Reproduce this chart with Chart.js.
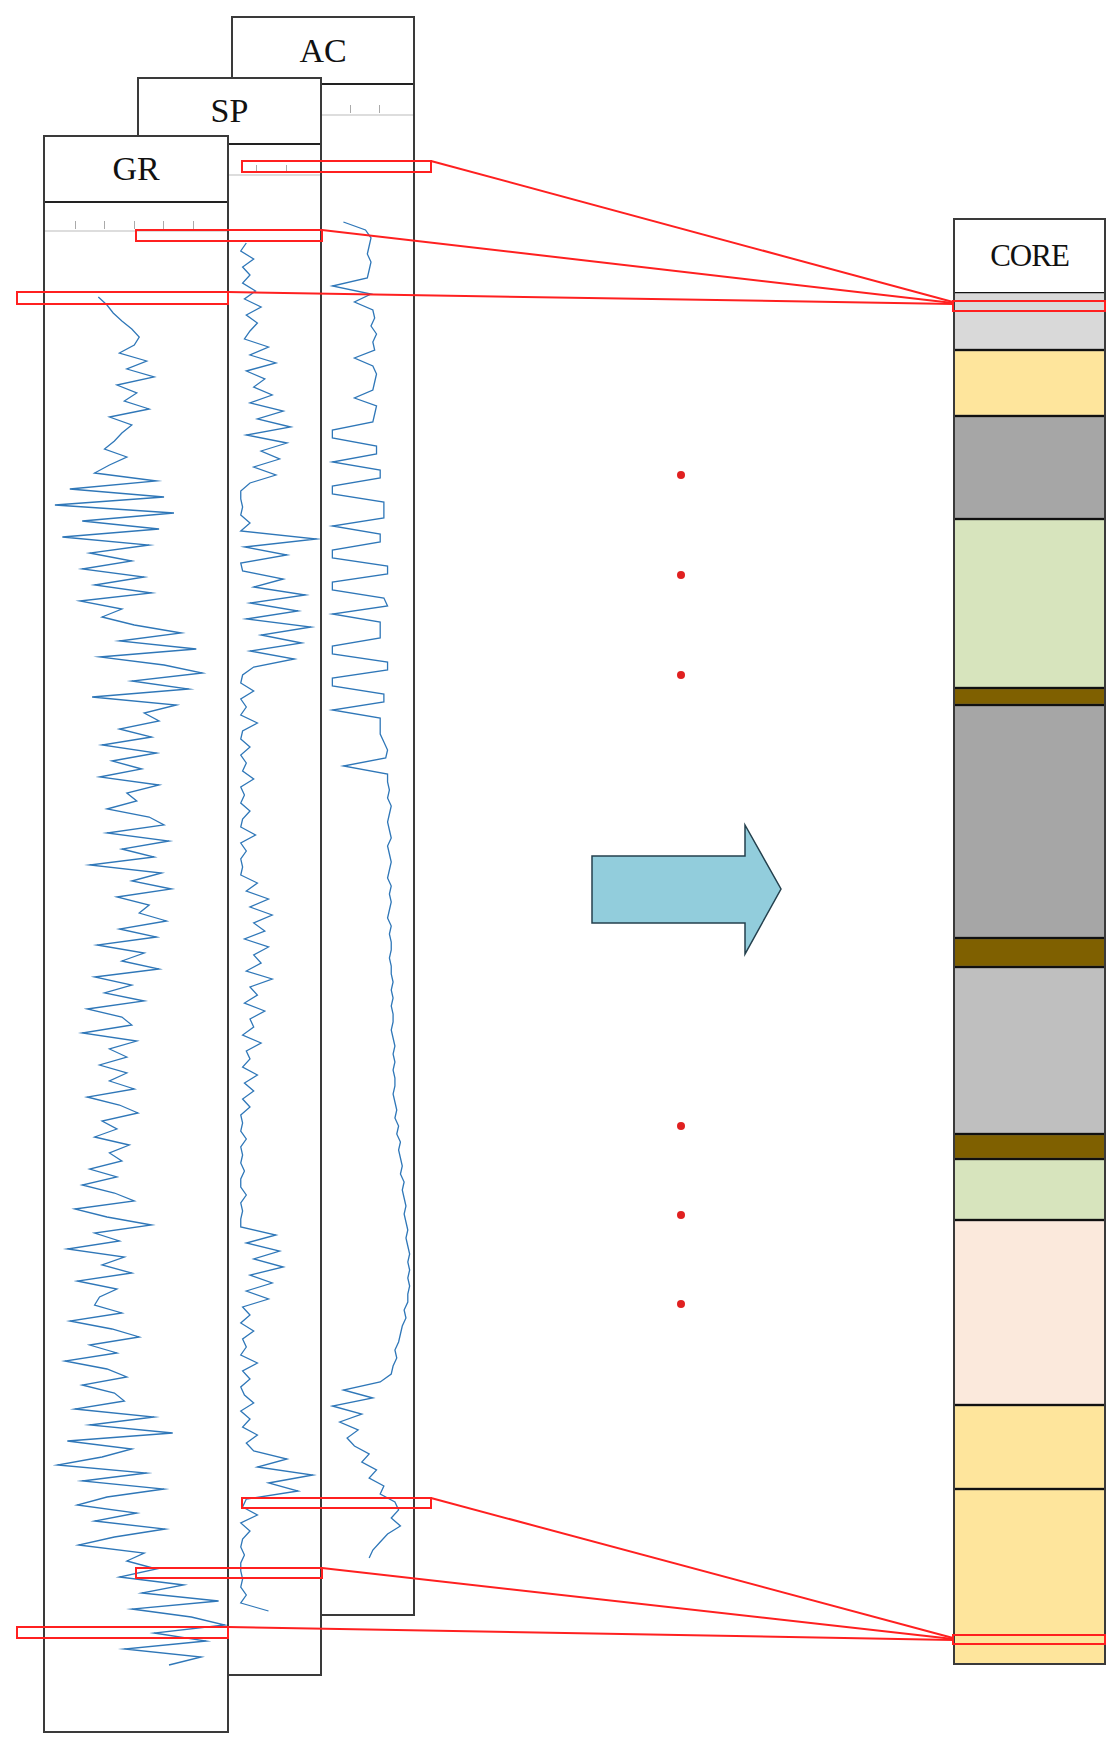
<!DOCTYPE html>
<html><head><meta charset="utf-8">
<script src="https://cdn.jsdelivr.net/npm/chart.js"></script>
<style>
body{margin:0;background:#fff;width:1112px;height:1743px;position:relative;overflow:hidden;font-family:"Liberation Serif",serif}
.panel{position:absolute;background:#fff;border:2px solid #3a3a3a;box-sizing:border-box;overflow:hidden}
.head{position:absolute;left:0;right:0;top:0;border-bottom:2px solid #222;text-align:center;font-size:34px;color:#111}
.ruler{position:absolute;left:0;right:0;height:0;border-top:2px solid #ddd}
canvas{position:absolute;left:0}
svg{position:absolute;left:0;top:0}
</style></head><body>
<script>
// ---- data (depth units per track, values in track scale) ----
const trackNames = ["AC","SP","GR"];
const GR_START = 65, SP_START = 73, AC_START = 114, STEP = 8;
const GR = [43,50,55,62,70,76, 72,60,82,66,88,58,74,64,84,52,70,62, 56,48,66,52,
 40,90,20,96,8,104,30,92,14,84,36, 70,30,80,40,86,28,62,46,72,
 110,60,122,44,96,127,70,116,38,106,80,92, 60,86,46,90,54,78,44,92,66,74,50,84,
 96,50,100,62,88,36,94,70,102,58,84,76,98,60,90,42,80,62,
 92,40,70,48,80,34,62,70,30,74,52,66, 44,66,52,72,34,60,75,46,58,40,68,52,62,36,58,
 30,56,72,24,50,86,40,60,18,64,46,70,26,58,44, 40,62,20,54,76,36,58,16,50,66,30,56,
 64,24,88,36,103,18,70,46,10,82,30,96,50,26,74, 40,97,56,27,80,66,90,
 60,112,78,140,70,118,145,88,130,64,126,100];
const SP = [58,55,62,56,60, 56,63,57,66,58,64,60, 57,70,60,74,58,68,62,72,
 60,78,64,82,58,80,66,76,62,74,60, 55,55,56,55,60,55,96,57,80,55,56,
 78,62,90,60,86,58,93,66,88,60,84,62,
 56,55,62,55,58,55,64,56,55,60,55,58,56,62,55,57,55,60,56,55,63,55,58,55,56,55,
 64,58,70,60,72,62,68,57,70,62,66,58,72,60,64,57,68,60,62,56,66,58,60,56,64,57,62,56,60,
 55,56,55,58,55,56,55,57,55,55,58,55,56,55,55, 74,58,76,62,78,60,72,58,70,
 56,60,55,62,56,58,55,64,56,60,55,57,62,55,60,56,64,58,62, 80,64,94,70,86,
 58,56,64,55,60,56,55,57,55,55,56,55,58,55,70];
const AC = [60,72,75,74,73,75,74,73,54, 75,66,76,77,75,78,76,77,66,76,78,77,76,66,78,77,76,
 54,54,78,78,54,80,80,54,54,82,82,82,54,80,80,54,54,84,84,54,54,82,84,54,80,80,80,54,54,84,84,54,54,82,82,54,80,80,80,
 82,84,83,60,84,
 84,85,84,86,85,84,85,86,84,85,86,85,84,86,85,86,85,84,86,85,86,86,85,86,
 86,87,86,87,86,87,87,86,87,88,87,88,87,88,88,87,
 88,89,88,90,89,91,90,91,92,91,93,92,93,94,93,94,95,94,95,96,95,96,95,96,95,
 95,93,94,92,91,90,88,89,87,86, 80,60,76,54,70,58,68,62, 66,74,70,78,74,82,80,88, 90,86,91,84,80,76,74];
const coreTops    = [0,58,124,227,396,413,646,675,842,867,928,1113,1197];
const coreBottoms = [58,124,227,396,413,646,675,842,867,928,1113,1197,1373];
const coreColors  = ["#d9d9d9","#fee59c","#a6a6a6","#d7e4bd","#7f6000","#a6a6a6","#7f6000","#bfbfbf","#7f6000","#d7e4bd","#fbe9dc","#fee59c","#fee59c"];

// ---- layout ----
const panels = {
  AC:{left:231,top:16,w:184,h:1600,head:65,ruler:96,canvasTop:90,max:100,data:AC,start:AC_START},
  SP:{left:137,top:77,w:185,h:1599,head:64,ruler:95,canvasTop:91,max:100,data:SP,start:SP_START},
  GR:{left:43,top:135,w:186,h:1598,head:64,ruler:93,canvasTop:95,max:150,data:GR,start:GR_START}
};
for(const name of trackNames){
  const p=panels[name];
  const d=document.createElement('div');d.className='panel';
  Object.assign(d.style,{left:p.left+'px',top:p.top+'px',width:p.w+'px',height:p.h+'px'});
  d.innerHTML=`<div class="head" style="height:${p.head}px;line-height:${p.head}px">${name}</div>
   <div class="ruler" style="top:${p.ruler}px"></div>`;
  // small ruler ticks
  for(let i=1;i<6;i++){const t=document.createElement('div');
    Object.assign(t.style,{position:'absolute',left:(i*p.w/6.3)+'px',top:(p.ruler-9)+'px',width:'1px',height:'8px',background:'#aaa'});d.appendChild(t);}
  const c=document.createElement('canvas');c.width=p.w;c.height=1500;c.style.top=p.canvasTop+'px';
  d.appendChild(c);document.body.appendChild(d);
  new Chart(c,{type:'line',data:{datasets:[{data:p.data.map((v,i)=>({x:v,y:p.start+i*STEP})),
     borderColor:'#2f77b8',borderWidth:1.3,pointRadius:0,tension:0}]},
   options:{responsive:false,animation:false,parsing:false,layout:{padding:0},
    plugins:{legend:{display:false},tooltip:{enabled:false}},
    scales:{x:{type:'linear',min:0,max:p.max,display:false},y:{type:'linear',min:0,max:1500,reverse:true,display:false}}}});
}
// core panel
const cp=document.createElement('div');cp.className='panel';
Object.assign(cp.style,{left:'953px',top:'218px',width:'153px',height:'1447px'});
cp.innerHTML='<div class="head" style="height:72px;line-height:72px;font-size:31px;letter-spacing:-1px">CORE</div>';
const cc=document.createElement('canvas');cc.width=149;cc.height=1373;cc.style.top='72px';
cp.appendChild(cc);document.body.appendChild(cp);
new Chart(cc,{type:'bar',data:{labels:['core'],datasets:coreTops.map((t,i)=>({data:[[t,coreBottoms[i]]],
   backgroundColor:coreColors[i],borderColor:'#111',borderWidth:{top:1.5,bottom:1.5,left:0,right:0},borderSkipped:false,
   barPercentage:1,categoryPercentage:1,grouped:false}))},
 options:{responsive:false,animation:false,layout:{padding:0},plugins:{legend:{display:false},tooltip:{enabled:false}},
  scales:{x:{display:false},y:{min:0,max:1373,reverse:true,display:false}}}});
</script>
<svg width="1112" height="1743">
 <g fill="none" stroke="#ff2020" stroke-width="2">
  <rect x="242" y="161" width="189" height="11"/>
  <rect x="136" y="230" width="186" height="11"/>
  <rect x="17" y="292" width="211" height="12"/>
  <rect x="953" y="301" width="152" height="10"/>
  <line x1="431" y1="161" x2="953" y2="302"/>
  <line x1="322" y1="230" x2="953" y2="303"/>
  <line x1="228" y1="292" x2="953" y2="304"/>
  <rect x="242" y="1498" width="189" height="10"/>
  <rect x="136" y="1568" width="186" height="10"/>
  <rect x="17" y="1627" width="211" height="11"/>
  <rect x="953" y="1635" width="152" height="9"/>
  <line x1="431" y1="1498" x2="953" y2="1638"/>
  <line x1="322" y1="1568" x2="953" y2="1639"/>
  <line x1="228" y1="1627" x2="953" y2="1640"/>
 </g>
 <polygon points="592,856 745,856 745,825 781,889 745,954 745,923 592,923" fill="#92cddc" stroke="#24404d" stroke-width="1.5"/>
 <g fill="#e02020">
  <circle cx="681" cy="475" r="4"/><circle cx="681" cy="575" r="4"/><circle cx="681" cy="675" r="4"/>
  <circle cx="681" cy="1126" r="4"/><circle cx="681" cy="1215" r="4"/><circle cx="681" cy="1304" r="4"/>
 </g>
</svg>
</body></html>
